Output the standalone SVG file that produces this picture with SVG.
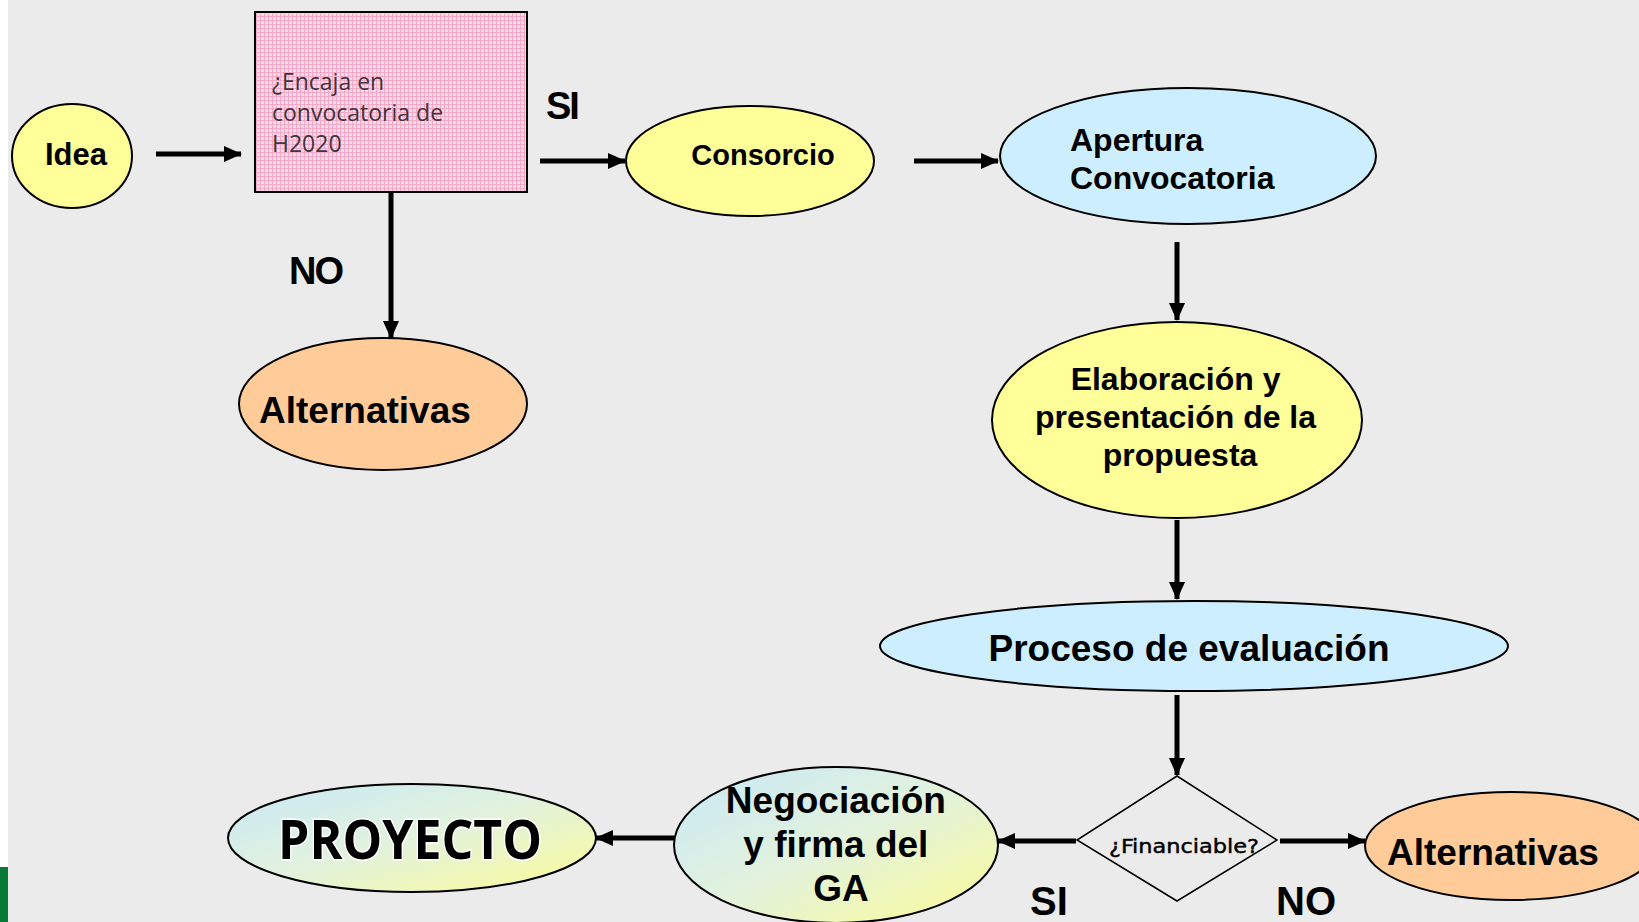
<svg xmlns="http://www.w3.org/2000/svg" width="1639" height="922" viewBox="0 0 1639 922">
<defs>
<style>
.n{stroke:#000;stroke-width:2}
.t{font-family:"Liberation Sans",Arial,sans-serif;font-weight:bold;fill:#000}
.c{stroke:#000;stroke-width:5;fill:none}
.yl{fill:#ffff99}
.bl{fill:#cceeff}
.pc{fill:#ffcc99}
</style>
<marker id="ah" viewBox="0 0 18 16" refX="17" refY="8" markerWidth="18" markerHeight="16" markerUnits="userSpaceOnUse" orient="auto">
<path d="M0,0 L18,8 L0,16 z" fill="#000"/>
</marker>
<pattern id="grid" width="4" height="4" patternUnits="userSpaceOnUse">
<rect width="4" height="4" fill="#fad9e7"/>
<path d="M0,0.5 H4 M0.5,0 V4" stroke="#f2a9c8" stroke-width="1"/>
</pattern>
<linearGradient id="gr" x1="0" y1="0" x2="1" y2="1">
<stop offset="0" stop-color="#c8e8f8"/>
<stop offset="0.5" stop-color="#e2f2dc"/>
<stop offset="1" stop-color="#fcfc96"/>
</linearGradient>
</defs>
<rect width="1639" height="922" fill="#ebebeb"/>
<rect x="0" y="0" width="8" height="922" fill="#ffffff"/>
<rect x="0" y="867" width="8" height="55" fill="#077a3a"/>

<g id="connectors">
<path class="c" d="M156,154 H241" marker-end="url(#ah)"/>
<path class="c" d="M540,161 H625" marker-end="url(#ah)"/>
<path class="c" d="M914,161 H998" marker-end="url(#ah)"/>
<path class="c" d="M391,192 V338" marker-end="url(#ah)"/>
<path class="c" d="M1177,242 V320" marker-end="url(#ah)"/>
<path class="c" d="M1177,520 V599" marker-end="url(#ah)"/>
<path class="c" d="M1177,695 V775" marker-end="url(#ah)"/>
<path class="c" d="M1076,841 H998" marker-end="url(#ah)"/>
<path class="c" d="M1280,841 H1365" marker-end="url(#ah)"/>
<path class="c" d="M674,838 H596" marker-end="url(#ah)"/>
<text class="t" x="546" y="119" font-size="38" letter-spacing="-2">SI</text>
<text class="t" x="289" y="284" font-size="38" letter-spacing="-2">NO</text>
<text class="t" x="1030" y="915" font-size="40">SI</text>
<text class="t" x="1276" y="915" font-size="40">NO</text>
</g>

<g id="idea">
<ellipse class="n yl" cx="72" cy="156" rx="60" ry="52"/>
<text class="t" x="76" y="165" font-size="31" text-anchor="middle">Idea</text>
</g>

<g id="encaja">
<rect x="255" y="12" width="272" height="180" fill="url(#grid)" stroke="#000" stroke-width="2"/>
<text font-family="'Open Sans','Noto Sans',sans-serif" font-size="23" fill="#3f353b">
<tspan x="272" y="90">¿Encaja en</tspan>
<tspan x="272" y="121">convocatoria de</tspan>
<tspan x="272" y="152">H2020</tspan>
</text>
</g>

<g id="consorcio">
<ellipse class="n yl" cx="750" cy="161" rx="124" ry="55"/>
<text class="t" x="763" y="165" font-size="29" text-anchor="middle">Consorcio</text>
</g>

<g id="apertura">
<ellipse class="n bl" cx="1188" cy="156" rx="188" ry="68"/>
<text class="t" font-size="32">
<tspan x="1070" y="151">Apertura</tspan>
<tspan x="1070" y="189">Convocatoria</tspan>
</text>
</g>

<g id="alternativas1">
<ellipse class="n pc" cx="383" cy="404" rx="144" ry="66"/>
<text class="t" x="259" y="423" font-size="37">Alternativas</text>
</g>

<g id="elaboracion">
<ellipse class="n yl" cx="1177" cy="420" rx="185" ry="98"/>
<text class="t" font-size="32" text-anchor="middle">
<tspan x="1180" y="390">Elaboración y</tspan>
<tspan x="1180" y="428">presentación de la</tspan>
<tspan x="1180" y="466">propuesta</tspan>
</text>
</g>

<g id="proceso">
<ellipse class="n bl" cx="1194" cy="646" rx="314" ry="45"/>
<text class="t" x="1189" y="661" font-size="37" text-anchor="middle">Proceso de evaluación</text>
</g>

<g id="financiable">
<polygon points="1177,776 1277,840 1177,901 1077,840" fill="none" stroke="#000" stroke-width="1.5"/>
<text x="1184" y="853" font-family="'DejaVu Sans','Liberation Sans',sans-serif" font-stretch="condensed" font-size="20" textLength="150" lengthAdjust="spacingAndGlyphs" text-anchor="middle" fill="#000" stroke="#000" stroke-width="0.4">¿Financiable?</text>
</g>

<g id="negociacion">
<ellipse class="n" cx="836" cy="845" rx="162" ry="78" fill="url(#gr)"/>
<text class="t" font-size="37" text-anchor="middle">
<tspan x="841" y="813">Negociación</tspan>
<tspan x="841" y="857">y firma del</tspan>
<tspan x="841" y="901">GA</tspan>
</text>
</g>

<g id="proyecto">
<ellipse class="n" cx="412" cy="838" rx="184" ry="54" fill="url(#gr)"/>
<text x="410" y="859" font-family="'Open Sans','Noto Sans',sans-serif" font-weight="bold" font-size="54" textLength="264" lengthAdjust="spacingAndGlyphs" text-anchor="middle" fill="#000" stroke="#fff" stroke-width="3" paint-order="stroke">PROYECTO</text>
</g>

<g id="alternativas2">
<ellipse class="n pc" cx="1511" cy="846" rx="146" ry="54"/>
<text class="t" x="1387" y="865" font-size="37">Alternativas</text>
</g>
</svg>
